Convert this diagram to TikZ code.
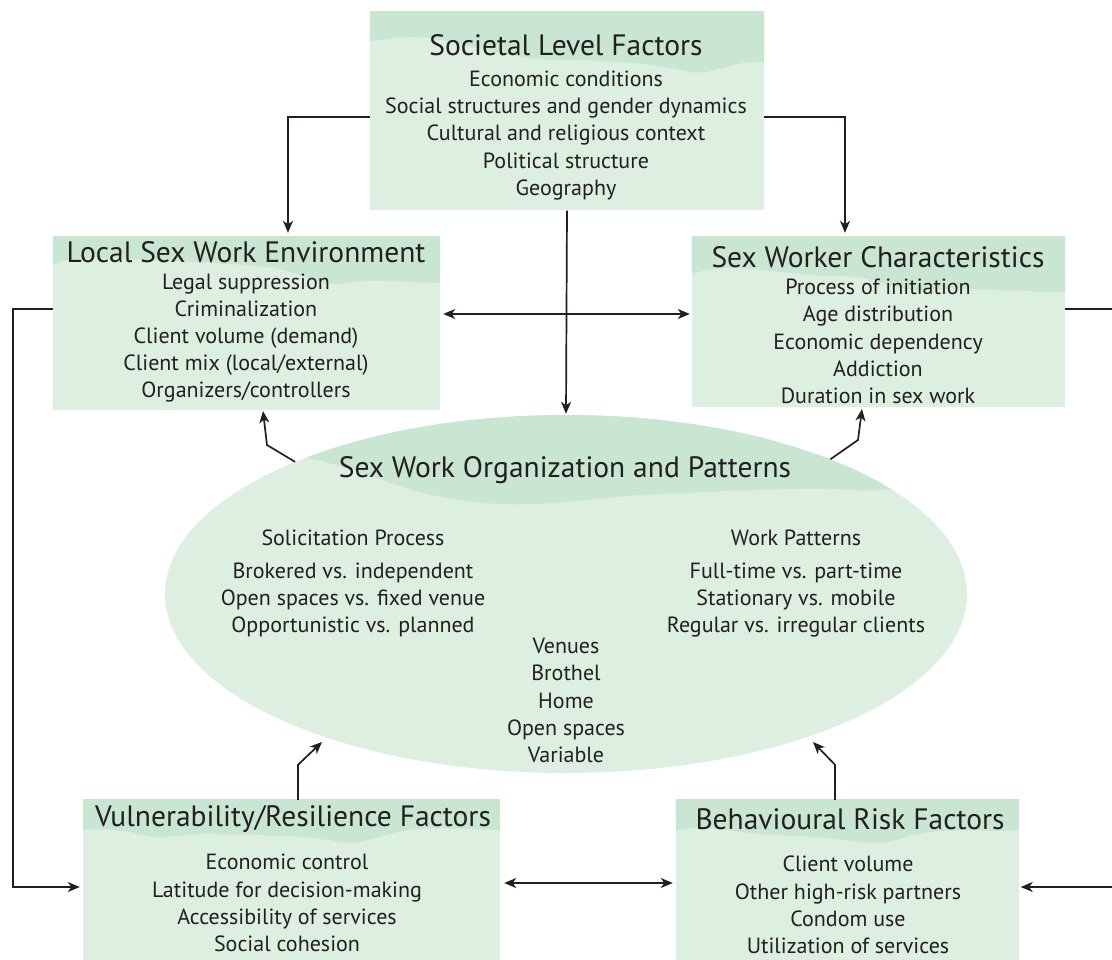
\documentclass[tikz,border=0pt]{standalone}
\usepackage{fontspec}
\setmainfont{PT Sans}
\usetikzlibrary{arrows.meta,calc,shapes.geometric}
\definecolor{boxlight}{HTML}{DCEFE1}
\definecolor{boxdark}{HTML}{C8E6D2}
\definecolor{ink}{HTML}{231F20}
\tikzset{
  panel/.style={rectangle, fill=boxlight, draw=none, inner sep=0pt},
  oval/.style={ellipse, fill=boxlight, draw=none, inner sep=0pt},
  wave/.style={fill=boxdark, draw=none},
  ttl/.style={inner sep=0pt, text=ink, font=\fontsize{29.5}{32}\selectfont},
  body/.style={inner sep=0pt, text=ink, align=center, font=\fontsize{22}{27.2}\selectfont},
  arr/.style={draw=ink, line width=1.7pt, -{Stealth[length=12pt,width=10pt,inset=3.5pt]}},
  dbl/.style={draw=ink, line width=1.7pt, {Stealth[length=12pt,width=10pt,inset=3.5pt]}-{Stealth[length=12pt,width=10pt,inset=3.5pt]}},
}
\begin{document}
\begin{tikzpicture}[x=1pt,y=-1pt]
\useasboundingbox (0,0) rectangle (1112,960);
% boxes
\node[panel, minimum width=394pt, minimum height=199pt] (soc) at (567,111) {};
\node[panel, minimum width=387pt, minimum height=173pt] (lsw) at (246.5,323.5) {};
\node[panel, minimum width=373pt, minimum height=170pt] (swc) at (878.5,322) {};
\node[oval, minimum width=802pt, minimum height=358pt] (ell) at (566,594) {};
\node[panel, minimum width=417pt, minimum height=160pt] (vrf) at (291.5,880) {};
\node[panel, minimum width=343pt, minimum height=160pt] (brf) at (847.5,880) {};
% decorative darker waves
\begin{scope}
\clip (soc.north west) rectangle (soc.south east);
\fill[wave] (360,0) -- (780,0) -- (780,62) -- (764,62) .. controls (730,60) and (712,76) .. (690,72)
  .. controls (660,64) and (610,60) .. (560,60) .. controls (520,60) and (490,50) .. (450,42)
  .. controls (420,34) and (395,36) .. (360,44) -- cycle;
\end{scope}
\begin{scope}
\clip (lsw.north west) rectangle (lsw.south east);
\fill[wave] (40,230) -- (450,230) -- (450,283) -- (440,283) .. controls (400,282) and (370,278) .. (345,283)
  .. controls (320,288) and (300,270) .. (260,266) .. controls (200,262) and (130,258) .. (90,258)
  .. controls (70,258) and (60,262) .. (40,268) -- cycle;
\end{scope}
\begin{scope}
\clip (swc.north west) rectangle (swc.south east);
\fill[wave] (680,230) -- (1080,230) -- (1080,292) -- (1065,292) .. controls (1010,292) and (960,286) .. (930,290)
  .. controls (900,294) and (880,276) .. (840,276) .. controls (800,276) and (760,268) .. (730,268)
  .. controls (710,268) and (700,272) .. (680,276) -- cycle;
\end{scope}
\begin{scope}
\clip (ell.center) ellipse [x radius=401pt, y radius=179pt];
\fill[wave] (300,400) -- (1000,400) -- (1000,470) .. controls (950,480) and (900,492) .. (860,490)
  .. controls (800,486) and (720,492) .. (660,494) .. controls (600,496) and (560,506) .. (500,504)
  .. controls (460,502) and (430,496) .. (400,486) .. controls (360,472) and (330,462) .. (300,456) -- cycle;
\end{scope}
\begin{scope}
\clip (vrf.north west) rectangle (vrf.south east);
\fill[wave] (70,790) -- (510,790) -- (510,830) -- (500,830) .. controls (470,830) and (440,826) .. (410,830)
  .. controls (380,834) and (360,846) .. (340,842) .. controls (300,834) and (260,836) .. (220,834)
  .. controls (180,832) and (170,840) .. (150,836) .. controls (120,830) and (100,826) .. (70,832) -- cycle;
\end{scope}
\begin{scope}
\clip (brf.north west) rectangle (brf.south east);
\fill[wave] (660,790) -- (1030,790) -- (1030,830) -- (1019,830) .. controls (990,832) and (960,828) .. (930,832)
  .. controls (900,836) and (890,846) .. (860,842) .. controls (820,836) and (790,836) .. (760,834)
  .. controls (730,832) and (715,826) .. (690,828) .. controls (680,829) and (675,832) .. (660,834) -- cycle;
\end{scope}
% texts
\node[ttl] (socT) at (566,45) {Societal Level Factors};
\node[body] (socB) at (566,135.5) {Economic conditions\\Social structures and gender dynamics\\Cultural and religious context\\Political structure\\Geography};
\node[ttl] (lswT) at (246,252) {Local Sex Work Environment};
\node[body] (lswB) at (246,338) {Legal suppression\\Criminalization\\Client volume (demand)\\Client mix (local/external)\\Organizers/controllers};
\node[ttl] (swcT) at (878,257) {Sex Worker Characteristics};
\node[body] (swcB) at (878,341.5) {Process of initiation\\Age distribution\\Economic dependency\\Addiction\\Duration in sex work};
\node[ttl] (ellT) at (565,470) {Sex Work Organization and Patterns};
\node[body] (solT) at (353,538) {Solicitation Process};
\node[body] (solB) at (353,600) {Brokered vs. independent\\Open spaces vs. fixed venue\\Opportunistic vs. planned};
\node[body] (wrkT) at (796,538) {Work Patterns};
\node[body] (wrkB) at (796,600) {Full-time vs. part-time\\Stationary vs. mobile\\Regular vs. irregular clients};
\node[body] (venB) at (566,700.5) {Venues\\Brothel\\Home\\Open spaces\\Variable};
\node[ttl] (vrfT) at (293,819) {Vulnerability/Resilience Factors};
\node[body] (vrfB) at (287,903) {Economic control\\Latitude for decision-making\\Accessibility of services\\Social cohesion};
\node[ttl] (brfT) at (850,819) {Behavioural Risk Factors};
\node[body] (brfB) at (848,905) {Client volume\\Other high-risk partners\\Condom use\\Utilization of services};
% connectors
\draw[arr] ($(soc.west)+(0,6)$) -| ($(lsw.north)+(41.5,-4)$);
\draw[arr] ($(soc.east)+(0,6)$) -| ($(swc.north)+(-33.5,-4)$);
\draw[arr] (soc.south) -- ($(ell.north)+(0,-1)$);
\coordinate (h1) at ($(lsw.east)+(3,-9.5)$);
\draw[dbl] (h1) -- ($(h1 -| swc.west)+(-2,0)$);
\coordinate (lx) at (13,0);
\coordinate (l1) at ($(lsw.west)+(0,-14.5)$);
\coordinate (l2) at ($(vrf.west)+(-3,7)$);
\draw[arr] (l1) -- (lx |- l1) -- (lx |- l2) -- (l2);
\coordinate (rx) at (1115,0);
\coordinate (r1) at ($(swc.east)+(0,-13)$);
\coordinate (r2) at ($(brf.east)+(1.5,7)$);
\draw[arr] (r1) -- (rx |- r1) -- (rx |- r2) -- (r2);
\coordinate (hb) at ($(vrf.east)+(4,3)$);
\draw[dbl] (hb) -- ($(hb -| brf.west)+(-3,0)$);
\coordinate (e1) at (267,445);
\coordinate (t1) at (263,411);
\draw[arr] (ell.154) -- (e1) -- (t1);
\coordinate (e2) at (858,440);
\coordinate (t2) at (862,409);
\draw[arr] (ell.27) -- (e2) -- (t2);
\coordinate (v1) at ($(vrf.north)+(6.5,-35)$);
\coordinate (v2) at (322,742);
\draw[arr] ($(vrf.north)+(6.5,0)$) -- (v1) -- (v2);
\coordinate (b1) at ($(brf.north)+(-12.5,-35)$);
\coordinate (b2) at (813,742);
\draw[arr] ($(brf.north)+(-12.5,0)$) -- (b1) -- (b2);
\end{tikzpicture}
\end{document}
